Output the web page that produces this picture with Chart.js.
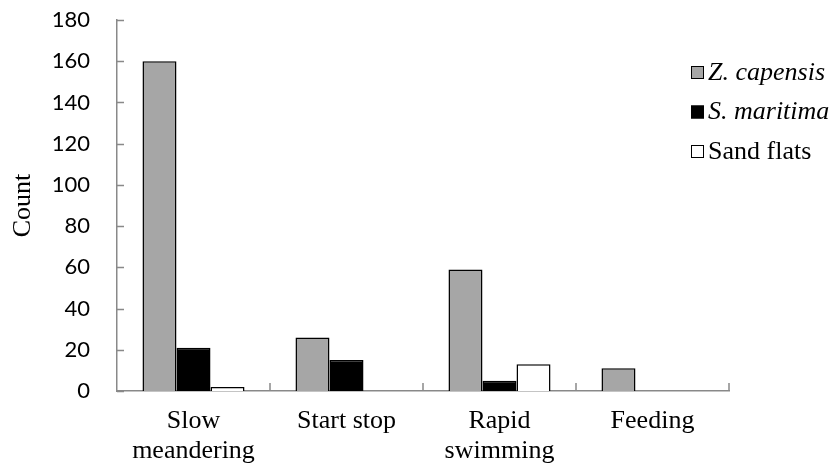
<!DOCTYPE html>
<html>
<head>
<meta charset="utf-8">
<script src="https://cdn.jsdelivr.net/npm/chart.js@4.4.1/dist/chart.umd.min.js"></script>
<style>
	html, body { margin: 0; padding: 0; background: #fff; }
	canvas { display: block; }
</style>
</head>
<body>
<canvas id="myChart" width="835" height="468"></canvas>
<script>
var categories = [['Slow', 'meandering'], ['Start stop'], ['Rapid', 'swimming'], ['Feeding']];
var seriesNames = ['Z. capensis', 'S. maritima', 'Sand flats'];
var zCapensis = [160, 26, 59, 11];
var sMaritima = [21, 15, 5, 0];
var sandFlats = [2, 0, 13, 0];
var yTicks = [0, 20, 40, 60, 80, 100, 120, 140, 160, 180];

var axisGrey = '#898989';
var serif = '"Liberation Serif", "Times New Roman", serif';

// Excel style ticks, drawn inward from the axis lines
var innerTicks = {
	id: 'innerTicks',
	afterDraw: function(chart) {
		var ctx = chart.ctx;
		var x = chart.scales.x;
		var y = chart.scales.y;
		var step = (x.right - x.left) / chart.data.labels.length;
		ctx.save();
		ctx.strokeStyle = axisGrey;
		ctx.lineWidth = 1.5;
		ctx.beginPath();
		for (var i = 0; i < yTicks.length; i++) {
			var py = Math.round(y.getPixelForValue(yTicks[i])) + 0.5;
			ctx.moveTo(x.left, py);
			ctx.lineTo(x.left + 7, py);
		}
		for (var j = 1; j <= chart.data.labels.length; j++) {
			var px = x.left + step * j;
			ctx.moveTo(px, y.bottom);
			ctx.lineTo(px, y.bottom - 8);
		}
		ctx.stroke();
		ctx.restore();
	}
};

// legend with italic species names
var sideLegend = {
	id: 'sideLegend',
	afterDraw: function(chart) {
		var ctx = chart.ctx;
		var sets = chart.data.datasets;
		ctx.save();
		ctx.textBaseline = 'middle';
		ctx.textAlign = 'left';
		for (var i = 0; i < sets.length; i++) {
			var cy = 72 + i * 39.5;
			ctx.fillStyle = sets[i].backgroundColor;
			ctx.fillRect(691, cy - 6, 13, 13);
			ctx.strokeStyle = '#000';
			ctx.lineWidth = 1;
			ctx.strokeRect(691.5, cy - 5.5, 12, 12);
			ctx.fillStyle = '#000';
			ctx.font = (sets[i].italic ? 'italic ' : '') + '26px ' + serif;
			ctx.fillText(sets[i].label, 708, cy + 1);
		}
		ctx.restore();
	}
};

function barBorder(context) {
	return context.raw === 0 ? 0 : 1.5;
}

var data = {
	labels: categories,
	datasets: [
		{ label: seriesNames[0], data: zCapensis, backgroundColor: '#a6a6a6', italic: true },
		{ label: seriesNames[1], data: sMaritima, backgroundColor: '#000000', italic: true },
		{ label: seriesNames[2], data: sandFlats, backgroundColor: '#ffffff', italic: false }
	]
};
data.datasets.forEach(function(ds) {
	ds.borderColor = '#000';
	ds.borderWidth = barBorder;
	ds.borderSkipped = 'bottom';
	ds.categoryPercentage = 0.667;
	ds.barPercentage = 1;
});

var myChart = new Chart(document.getElementById('myChart').getContext('2d'), {
	type: 'bar',
	data: data,
	plugins: [innerTicks, sideLegend],
	options: {
		animation: false,
		responsive: false,
		layout: { padding: { left: 0, right: 106, top: 20, bottom: 0 } },
		plugins: {
			legend: { display: false },
			tooltip: { enabled: false }
		},
		scales: {
			x: {
				afterFit: function(scale) { scale.height = 77; },
				grid: { display: false, drawTicks: false },
				border: { display: true, color: axisGrey, width: 1.5 },
				ticks: {
					color: '#000',
					padding: 16,
					maxRotation: 0,
					autoSkip: false,
					font: { family: serif, size: 26, lineHeight: 1.12 }
				}
			},
			y: {
				min: 0,
				max: 180,
				afterFit: function(scale) {
					// tick padding would otherwise push the plot top down
					scale.width = 117;
					scale.paddingTop = 0;
					scale.paddingBottom = 0;
				},
				afterBuildTicks: function(scale) {
					scale.ticks = yTicks.map(function(v) { return { value: v }; });
				},
				grid: { display: false, drawTicks: false },
				border: { display: true, color: axisGrey, width: 1.5 },
				ticks: {
					color: '#000',
					padding: 27,
					font: { family: 'Lato, "Liberation Sans", sans-serif', size: 22 }
				},
				title: {
					display: true,
					text: 'Count',
					color: '#000',
					padding: { top: 8, bottom: 0 },
					font: { family: serif, size: 26, lineHeight: 1.2 }
				}
			}
		}
	}
});
</script>
</body>
</html>
